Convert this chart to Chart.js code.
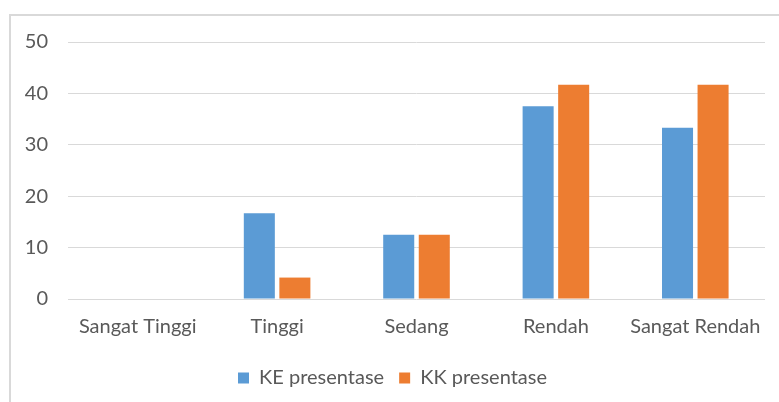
<!DOCTYPE html>
<html><head><meta charset="utf-8">
<script src="https://cdn.jsdelivr.net/npm/chart.js@4/dist/chart.umd.min.js"></script>
<style>
html,body{margin:0;padding:0;background:#fff;overflow:hidden}
#wrap{position:relative;width:779px;height:402px}
#frame{position:absolute;left:9px;top:14px;width:900px;height:500px;border:2px solid #d9d9d9;box-sizing:border-box}
canvas{position:absolute;left:0;top:0}
</style></head>
<body>
<div id="wrap"><div id="frame"></div><canvas id="c" width="779" height="402"></canvas></div>
<script>
const categories = ["Sangat Tinggi","Tinggi","Sedang","Rendah","Sangat Rendah"];
const keValues = [0, 16.67, 12.5, 37.5, 33.33];
const kkValues = [0, 4.17, 12.5, 41.67, 41.67];
const seriesNames = ["KE presentase","KK presentase"];
const yTicks = [0,10,20,30,40,50];

const FONT = "Lato, 'Open Sans', sans-serif";
new Chart(document.getElementById('c'), {
  type: 'bar',
  data: {
    labels: categories,
    datasets: [
      {label: seriesNames[0], data: keValues, backgroundColor: '#5b9bd5', borderWidth:0},
      {label: seriesNames[1], data: kkValues, backgroundColor: '#ed7d31', borderWidth:0}
    ]
  },
  options: {
    responsive: false,
    animation: false,
    layout: {padding: {left: 20, right: 14, top: 42, bottom: 4}},
    datasets: {bar: {categoryPercentage: 0.51, barPercentage: 0.873}},
    plugins: {
      tooltip: {enabled: false},
      legend: {
        position: 'bottom',
        labels: {boxWidth: 11, boxHeight: 11, padding: 15, color: '#595959', font: {family: FONT, size: 20}}
      }
    },
    scales: {
      x: {
        grid: {display: false},
        border: {display: false},
        ticks: {color: '#595959', font: {family: FONT, size: 20}, padding: 8, maxRotation: 0},
        afterFit: s => { s.height = 54; }
      },
      y: {
        min: 0, max: 50,
        afterBuildTicks: s => { s.ticks = yTicks.map(v => ({value: v})); },
        grid: {color: '#d9d9d9', lineWidth: 1, drawTicks: false},
        border: {display: false},
        ticks: {color: '#595959', font: {family: FONT, size: 20}, padding: 20},
        afterFit: s => { s.width = 48; }
      }
    }
  }
});
</script>
</body></html>
